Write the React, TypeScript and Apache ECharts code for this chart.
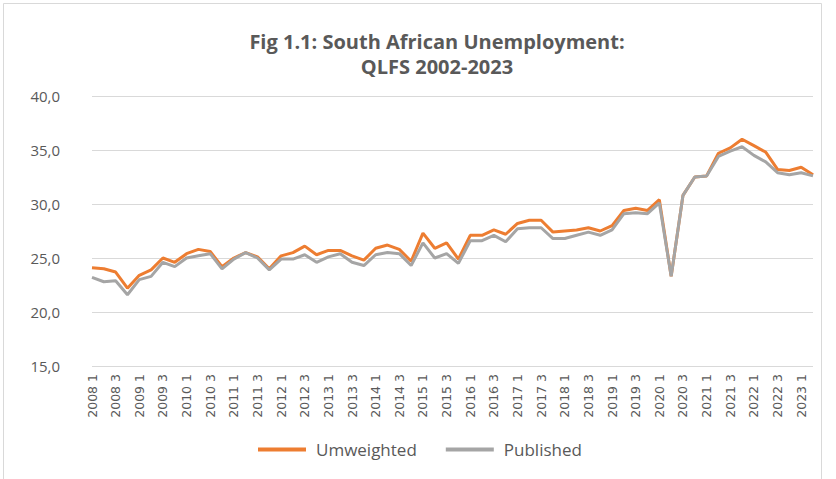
import React, { useEffect, useRef } from "react";
import * as echarts from "echarts";

const years = [2008, 2009, 2010, 2011, 2012, 2013, 2014, 2015, 2016, 2017, 2018, 2019, 2020, 2021, 2022, 2023];
const quarters = [1, 2, 3, 4];
const categories: string[] = [];
years.forEach((y) => quarters.forEach((q) => { if (!(y === 2023 && q > 2)) categories.push(`${y} ${q}`); }));

const unweighted = [
  24.1, 24.0, 23.7, 22.2,
  23.4, 23.9, 25.0, 24.6,
  25.4, 25.8, 25.6, 24.2,
  25.0, 25.5, 25.1, 24.0,
  25.2, 25.5, 26.1, 25.3,
  25.7, 25.7, 25.2, 24.8,
  25.9, 26.2, 25.8, 24.7,
  27.3, 25.9, 26.4, 24.9,
  27.1, 27.1, 27.6, 27.2,
  28.2, 28.5, 28.5, 27.4,
  27.5, 27.6, 27.8, 27.5,
  28.0, 29.4, 29.6, 29.4,
  30.4, 23.3, 30.8, 32.5,
  32.6, 34.7, 35.2, 36.0,
  35.4, 34.8, 33.2, 33.1,
  33.4, 32.7,
];

const published = [
  23.2, 22.8, 22.9, 21.6,
  23.0, 23.3, 24.6, 24.2,
  25.0, 25.2, 25.4, 24.0,
  24.9, 25.5, 25.0, 23.9,
  24.9, 24.9, 25.3, 24.6,
  25.1, 25.4, 24.6, 24.3,
  25.3, 25.5, 25.4, 24.3,
  26.4, 25.0, 25.4, 24.5,
  26.6, 26.6, 27.1, 26.5,
  27.7, 27.8, 27.8, 26.8,
  26.8, 27.1, 27.4, 27.1,
  27.6, 29.1, 29.2, 29.1,
  30.1, 23.3, 30.8, 32.5,
  32.6, 34.4, 34.9, 35.3,
  34.5, 33.9, 32.9, 32.7,
  32.9, 32.6,
];

const seriesNames = ["Umweighted", "Published"];
const yTicks = { min: 15, max: 40, interval: 5 };

export default function App() {
  const ref = useRef<HTMLDivElement>(null);
  useEffect(() => {
    document.body.style.margin = "0";
    const chart = echarts.init(ref.current!, null, { renderer: "svg" });
    chart.setOption({
      animation: false,
      backgroundColor: "#ffffff",
      title: {
        text: "Fig 1.1: South African Unemployment:\nQLFS 2002-2023",
        left: 432,
        textAlign: "center",
        top: 24,
        textStyle: {
          fontFamily: "Open Sans",
          fontWeight: "bold",
          fontSize: 20,
          lineHeight: 25,
          color: "#595959",
        },
      },
      graphic: [
        {
          type: "rect",
          shape: { x: 3.5, y: 3.5, width: 818, height: 480 },
          style: { fill: "none", stroke: "#D9D9D9", lineWidth: 1 },
          silent: true,
        },
      ],
      legend: {
        left: 258,
        top: 441,
        padding: 0,
        itemWidth: 48,
        itemHeight: 4,
        itemGap: 29,
        icon: "rect",
        textStyle: {
          fontFamily: "Open Sans",
          fontSize: 17,
          color: "#595959",
          padding: [0, 0, 0, 5],
        },
        data: seriesNames,
      },
      grid: { left: 92, right: 23, top: 96, bottom: 113, containLabel: false },
      xAxis: {
        type: "category",
        data: categories,
        boundaryGap: false,
        axisLine: { show: false },
        axisTick: { show: false },
        axisLabel: {
          interval: 1,
          rotate: 90,
          fontFamily: "DejaVu Sans",
          fontSize: 12.5,
          color: "#595959",
          margin: 8,
        },
        splitLine: { show: false },
      },
      yAxis: {
        type: "value",
        min: yTicks.min,
        max: yTicks.max,
        interval: yTicks.interval,
        axisLine: { show: false },
        axisTick: { show: false },
        axisLabel: {
          fontFamily: "Open Sans",
          fontSize: 15,
          color: "#595959",
          margin: 32,
          formatter: (v: number) => v.toFixed(1).replace(".", ","),
        },
        splitLine: { lineStyle: { color: "#D9D9D9", width: 1 } },
      },
      series: [
        {
          name: seriesNames[0],
          type: "line",
          data: unweighted,
          symbol: "none",
          lineStyle: { color: "#ED7D31", width: 3 },
          itemStyle: { color: "#ED7D31" },
        },
        {
          name: seriesNames[1],
          type: "line",
          data: published,
          symbol: "none",
          lineStyle: { color: "#A5A5A5", width: 3 },
          itemStyle: { color: "#A5A5A5" },
        },
      ],
    });
    return () => chart.dispose();
  }, []);
  return <div ref={ref} style={{ width: 836, height: 479 }} />;
}
